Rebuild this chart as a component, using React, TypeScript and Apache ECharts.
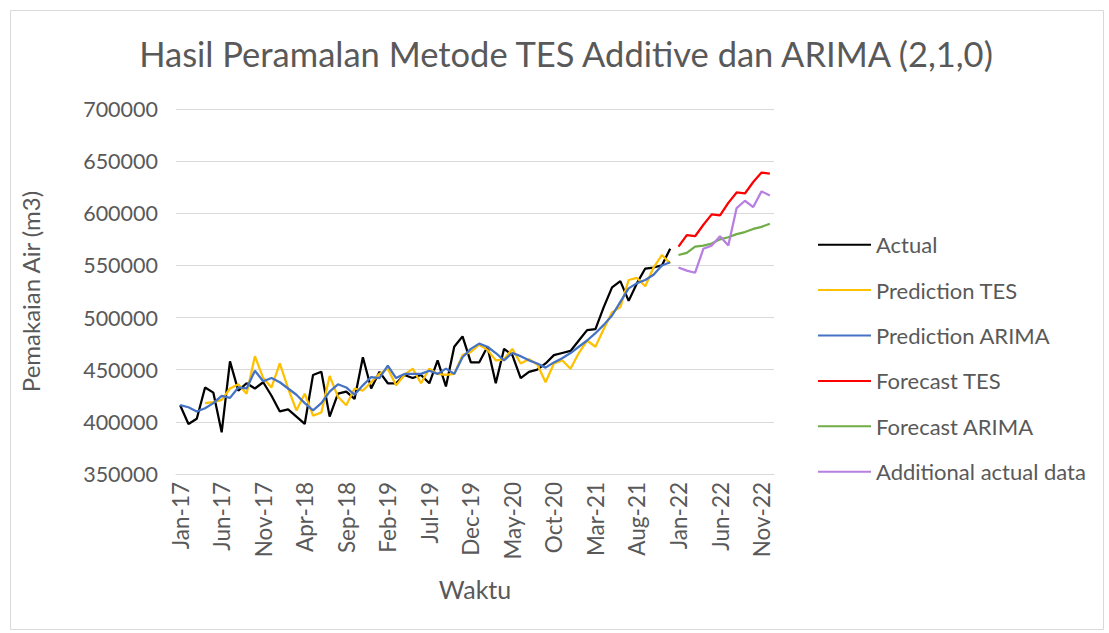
import React, { useEffect, useRef } from "react";
import * as echarts from "echarts";

const monthNames = ["Jan", "Feb", "Mar", "Apr", "May", "Jun", "Jul", "Aug", "Sep", "Oct", "Nov", "Dec"];
const years = ["17", "18", "19", "20", "21", "22"];
const categories: string[] = [];
years.forEach((y) => monthNames.forEach((m) => categories.push(`${m}-${y}`)));

const actual = [
  416000, 398000, 403000, 433000, 428000, 390000, 458000, 430000, 437000, 432000, 438000, 425000,
  410000, 412000, 405000, 398000, 445000, 448000, 405000, 427000, 429000, 422000, 462000, 432000,
  448000, 437000, 437000, 445000, 442000, 445000, 437000, 459000, 434000, 472000, 482000, 457000,
  457000, 472000, 437000, 470000, 464000, 442000, 448000, 450000, 456000, 464000, 466000, 468000,
  478000, 488000, 489000, 510000, 529000, 535000, 516000, 533000, 547000, 548000, 550000, 566000,
];

const predictionTES = [
  null, null, null, 418000, 419000, 421000, 432000, 436000, 427000, 463000, 442000, 433000,
  456000, 432000, 411000, 427000, 406000, 409000, 444000, 424000, 416000, 432000, 430000, 438000,
  446000, 451000, 435000, 445000, 451000, 437000, 451000, 446000, 445000, 446000, 464000, 467000,
  474000, 469000, 459000, 460000, 470000, 456000, 460000, 455000, 438000, 456000, 459000, 451000,
  466000, 478000, 472000, 489000, 505000, 510000, 536000, 538000, 530000, 548000, 560000, 552000,
];

const predictionARIMA = [
  416000, 414000, 410000, 413000, 418000, 425000, 423000, 433000, 432000, 449000, 439000, 442000,
  438000, 432000, 426000, 418000, 411000, 418000, 429000, 436000, 433000, 426000, 435000, 443000,
  442000, 454000, 442000, 446000, 446000, 446000, 449000, 446000, 451000, 446000, 462000, 470000,
  475000, 472000, 466000, 459000, 466000, 463000, 459000, 456000, 452000, 457000, 461000, 466000,
  472000, 478000, 485000, 493000, 502000, 515000, 528000, 533000, 536000, 541000, 550000, 553000,
];

const forecastTES = [568000, 579000, 578000, 589000, 599000, 598000, 610000, 620000, 619000, 630000, 639000, 638000];
const forecastARIMA = [560000, 562000, 568000, 569000, 571000, 575000, 577000, 580000, 582000, 585000, 587000, 590000];
const additionalActual = [548000, 545000, 543000, 566000, 569000, 578000, 569000, 605000, 612000, 606000, 621000, 617000];

const yTicks = { min: 350000, max: 700000, interval: 50000 };

const pad = (arr: (number | null)[], lead: number) => [...Array(lead).fill(null), ...arr];

const FONT = "Lato";
const TXT = "#595959";

export default function App() {
  const ref = useRef<HTMLDivElement>(null);
  useEffect(() => {
    if (!ref.current) return;
    const chart = echarts.init(ref.current, undefined, { renderer: "svg" });
    const lineSeries = (name: string, data: (number | null)[], color: string) => ({
      name,
      type: "line",
      data,
      showSymbol: false,
      symbol: "none",
      connectNulls: false,
      lineStyle: { color, width: 2.25 },
      itemStyle: { color },
    });
    chart.setOption({
      animation: false,
      backgroundColor: "#ffffff",
      textStyle: { fontFamily: FONT },
      title: {
        text: "Hasil Peramalan Metode TES Additive dan ARIMA (2,1,0)",
        left: 561,
        textAlign: "center",
        top: 31,
        textStyle: { fontFamily: FONT, fontSize: 34.5, fontWeight: "normal", color: TXT },
      },
      legend: {
        orient: "vertical",
        left: 813,
        top: 228,
        itemWidth: 53,
        itemHeight: 2,
        itemGap: 22,
        icon: "rect",
        textStyle: { fontFamily: FONT, fontSize: 22, color: TXT, lineHeight: 23.4 },
        data: ["Actual", "Prediction TES", "Prediction ARIMA", "Forecast TES", "Forecast ARIMA", "Additional actual data"],
      },
      grid: { left: 176, top: 109, width: 598, height: 365 },
      xAxis: {
        type: "category",
        data: categories,
        boundaryGap: true,
        name: "Waktu",
        nameLocation: "middle",
        nameGap: 102,
        nameTextStyle: { fontFamily: FONT, fontSize: 25, color: TXT },
        axisLine: { show: true, lineStyle: { color: "#d9d9d9", width: 1 } },
        axisTick: { show: false },
        axisLabel: { interval: 4, rotate: 90, fontFamily: FONT, fontSize: 22.5, color: TXT, margin: 8 },
      },
      yAxis: {
        type: "value",
        min: yTicks.min,
        max: yTicks.max,
        interval: yTicks.interval,
        name: "Pemakaian Air (m3)",
        nameLocation: "middle",
        nameGap: 134,
        nameTextStyle: { fontFamily: FONT, fontSize: 24, color: TXT },
        axisLine: { show: false },
        axisTick: { show: false },
        axisLabel: {
          fontFamily: FONT,
          fontSize: 21.5,
          color: TXT,
          margin: 18,
          formatter: (v: number) => String(v),
        },
        splitLine: { lineStyle: { color: "#d9d9d9", width: 1 } },
      },
      graphic: [
        {
          type: "rect",
          shape: { x: 10.5, y: 10.5, width: 1093, height: 619 },
          style: { fill: "none", stroke: "#d9d9d9", lineWidth: 1 },
          silent: true,
        },
      ],
      series: [
        lineSeries("Actual", actual, "#000000"),
        lineSeries("Prediction TES", predictionTES, "#FFC000"),
        lineSeries("Prediction ARIMA", predictionARIMA, "#4472C4"),
        lineSeries("Forecast TES", pad(forecastTES, 60), "#FF0000"),
        lineSeries("Forecast ARIMA", pad(forecastARIMA, 60), "#70AD47"),
        lineSeries("Additional actual data", pad(additionalActual, 60), "#B77FE0"),
      ],
    });
    return () => chart.dispose();
  }, []);
  return <div ref={ref} style={{ position: "absolute", left: 0, top: 0, width: 1109, height: 633 }} />;
}
